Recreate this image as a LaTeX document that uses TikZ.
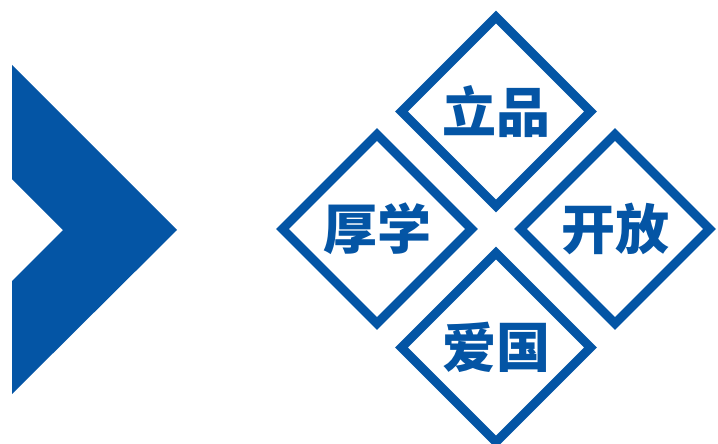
\documentclass[tikz,border=0pt]{standalone}
\usepackage{fontspec}
\newfontfamily\cjk{Noto Sans CJK SC Black}
\usetikzlibrary{shapes.geometric}
\definecolor{brandblue}{RGB}{4,85,165}
\tikzset{
  tile/.style={draw=brandblue, line width=9pt, line join=miter, diamond, shape aspect=1,
    minimum width=189pt, minimum height=189pt, inner sep=0pt, outer sep=0pt,
    text=brandblue, font=\cjk\fontsize{54pt}{54pt}\selectfont},
}
\begin{document}
\begin{tikzpicture}[x=1pt,y=-1pt]
\useasboundingbox (0,0) rectangle (718,444);
% chevron
\fill[brandblue] (12,65) -- (177,230) -- (12,394) -- (12,281) -- (63,230) -- (12,179) -- cycle;
% diamonds
\node[tile] (lipin)  at (496,111.5) {立品};
\node[tile] (houxue) at (377,229)   {厚学};
\node[tile] (kaifang) at (615,229)  {开放};
\node[tile] (aiguo)  at (496,347.5) {爱国};
\end{tikzpicture}
\end{document}
